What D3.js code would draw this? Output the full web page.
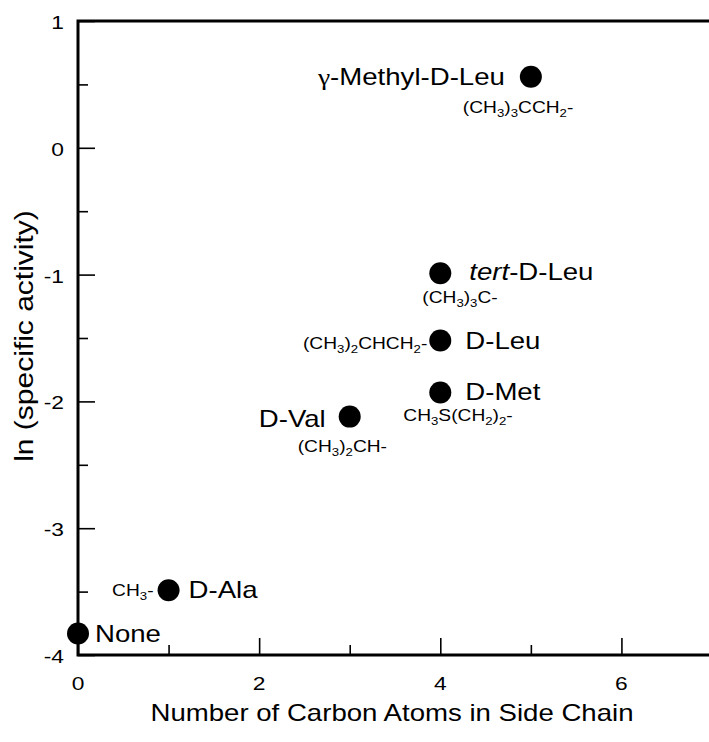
<!DOCTYPE html>
<html>
<head>
<meta charset="utf-8">
<script src="https://cdn.jsdelivr.net/npm/d3@7"></script>
<style>
  body { margin: 0; background: #fff; }
  text { font-family: "Liberation Sans", Arial, Helvetica, sans-serif; fill: #000; }
</style>
</head>
<body>
<div id="vis"></div>
<script>
var width = 709;
var height = 742;
// data
const names = ["None", "D-Ala", "D-Val", "D-Met", "D-Leu", "tert-D-Leu", "\u03b3-Methyl-D-Leu"];
const carbons = [0, 1, 3, 4, 4, 4, 5];
const lnActivity = [-3.83, -3.49, -2.12, -1.93, -1.52, -0.99, 0.56];
const formulas = ["", "CH_3-", "(CH_3)_2CH-", "CH_3S(CH_2)_2-", "(CH_3)_2CHCH_2-", "(CH_3)_3C-", "(CH_3)_3CCH_2-"];
const xTicks = [0, 2, 4, 6];
const yTicks = [-4, -3, -2, -1, 0, 1];

// label placement, pixels from the point centre: [dx, dy, anchor]
const nameOffsets = [[17, 9, "start"], [20, 8, "start"], [-24, 10, "end"], [25, 7, "start"], [25, 8, "start"], [29, 7, "start"], [-26, 8, "end"]];
const formulaOffsets = [null, [-15, 6, "end"], [-52, 35, "start"], [-37, 28, "start"], [-13, 8, "end"], [-18, 30, "start"], [-68, 36, "start"]];

const STRETCH = 1.2; // the original type is set wide
const mLeft = 78, mTop = 21, mBottom = 655, mRight = 712;

var svg = d3.select("#vis").append("svg")
  .attr("width", width)
  .attr("height", height);

var x = d3.scaleLinear().domain([0, 7]).range([mLeft, mRight]);
var y = d3.scaleLinear().domain([-4, 1]).range([mBottom, mTop]);

// puts a horizontally stretched text at (px, py)
function addText(px, py, size, anchor, rotate) {
  var g = svg.append("g")
    .attr("transform", "translate(" + px + "," + py + ")" + (rotate ? " rotate(" + rotate + ")" : "") + " scale(" + STRETCH + ",1)");
  return g.append("text").attr("text-anchor", anchor).style("font-size", size + "px");
}

// formulas: "_3" is a subscript 3
function addFormula(px, py, f, anchor) {
  var t = addText(px, py, 16, anchor);
  var parts = f.split(/(_\d)/).filter(function (s) { return s.length; });
  var shift = 0;
  parts.forEach(function (p) {
    if (p[0] == "_") {
      t.append("tspan").attr("dy", 4 - shift).style("font-size", "11px").text(p[1]);
      shift = 4;
    } else {
      t.append("tspan").attr("dy", -shift).text(p);
      shift = 0;
    }
  });
}

function tickStyle(g) {
  g.select(".domain").remove();
  g.selectAll("line").attr("stroke-width", 1.6);
}

// minor ticks
svg.append("g")
  .attr("transform", "translate(" + mLeft + ",0)")
  .call(d3.axisLeft(y).tickValues(d3.range(-3.5, 1, 1)).tickSize(-10).tickFormat(""))
  .call(tickStyle);
svg.append("g")
  .attr("transform", "translate(0," + mBottom + ")")
  .call(d3.axisBottom(x).tickValues([1, 3, 5, 7]).tickSize(-10).tickFormat(""))
  .call(tickStyle);

// major ticks
svg.append("g")
  .attr("transform", "translate(" + mLeft + ",0)")
  .call(d3.axisLeft(y).tickValues(yTicks).tickSize(-17).tickFormat(""))
  .call(tickStyle);
svg.append("g")
  .attr("transform", "translate(0," + mBottom + ")")
  .call(d3.axisBottom(x).tickValues(xTicks).tickSize(-17).tickFormat(""))
  .call(tickStyle);

// frame: left, bottom, top
svg.append("path")
  .attr("d", "M" + mRight + "," + mTop + "H" + mLeft + "V" + mBottom + "H" + mRight)
  .attr("fill", "none")
  .attr("stroke", "#000")
  .attr("stroke-width", 3);

// tick labels
yTicks.forEach(function (v) {
  addText(mLeft - 14, y(v) + 8, 19, "end").text(v);
});
xTicks.forEach(function (v) {
  addText(x(v), 690, 19, "middle").text(v);
});

// axis titles
addText(392, 721, 23, "middle").text("Number of Carbon Atoms in Side Chain");
addText(33, 336, 25, "middle", -90).text("ln (specific activity)");

// points
svg.selectAll(".pt")
  .data(names)
  .enter()
  .append("circle")
  .attr("class", "pt")
  .attr("cx", function (d, i) { return x(carbons[i]); })
  .attr("cy", function (d, i) { return y(lnActivity[i]); })
  .attr("r", 11)
  .attr("fill", "#000");

// labels
names.forEach(function (n, i) {
  var px = x(carbons[i]), py = y(lnActivity[i]);
  var o = nameOffsets[i];
  var t = addText(px + o[0], py + o[1], 23, o[2]);
  if (n.indexOf("tert-") == 0) {
    t.append("tspan").style("font-style", "italic").text("tert");
    t.append("tspan").text(n.slice(4));
  } else if (n[0] == "\u03b3") {
    t.append("tspan").style("font-family", "'Liberation Serif', 'Times New Roman', serif").text(n[0]);
    t.append("tspan").text(n.slice(1));
  } else {
    t.text(n);
  }
  if (formulas[i]) {
    var f = formulaOffsets[i];
    addFormula(px + f[0], py + f[1], formulas[i], f[2]);
  }
});
</script>
</body>
</html>
